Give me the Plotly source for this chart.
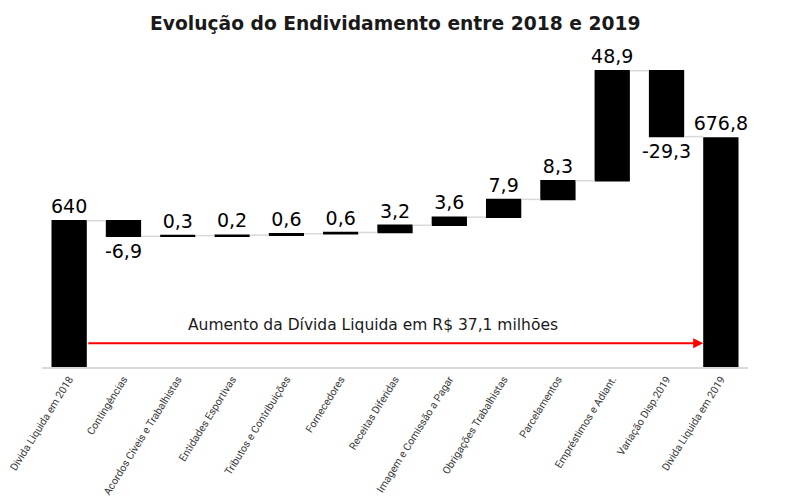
import plotly.graph_objects as go

# data
categorias = [
    'Divida Liquida em 2018', 'Contingências', 'Acordos Cíveis e Trabalhistas',
    'Entidades Esportivas', 'Tributos e Contribuições', 'Fornecedores',
    'Receitas Diferidas', 'Imagem e Comissão a Pagar', 'Obrigações Trabalhistas',
    'Parcelamentos', 'Empréstimos e Adiant.', 'Variação Disp.2019',
    'Divida Liquida em 2019',
]
valores = [640, -6.9, 0.3, 0.2, 0.6, 0.6, 3.2, 3.6, 7.9, 8.3, 48.9, -29.3, 676.8]
medidas = ['absolute'] + ['relative'] * 11 + ['absolute']
rotulos = ['640'] + [f'{v:.1f}'.replace('.', ',') for v in valores[1:]]

fig = go.Figure(go.Waterfall(
    x=categorias, y=valores, measure=medidas,
    text=rotulos, textposition='outside', cliponaxis=False,
    constraintext='none',
    textfont=dict(family='DejaVu Sans', size=19, color='#000000'),
    increasing=dict(marker=dict(color='#000000')),
    decreasing=dict(marker=dict(color='#000000')),
    totals=dict(marker=dict(color='#000000')),
    connector=dict(line=dict(color='#d9d9d9', width=1.5)),
    width=0.65,
))

# a pagina tem margem de 8px no body, por isso a figura fica menor
fig.update_layout(
    width=787, height=495,
    paper_bgcolor='white', plot_bgcolor='white',
    margin=dict(l=34, r=47, t=42, b=136),
    showlegend=False,
    title=dict(text='<b>Evolução do Endividamento entre 2018 e 2019</b>',
               x=0.492, xanchor='center', y=0.968, yanchor='middle',
               font=dict(family='DejaVu Sans', size=18.7, color='#1a1a1a')),
)
fig.update_xaxes(
    tickangle=-58, showline=True, linecolor='#d9d9d9', linewidth=2,
    tickfont=dict(family='Liberation Sans Narrow, Roboto', size=10.5, color='#3a3a3a'),
    showgrid=False, ticks='', automargin=False,
)
fig.update_yaxes(range=[575, 715.9], visible=False, showgrid=False)

# seta e texto do aumento
fig.add_annotation(
    x=11.675, y=585.6, ax=0.325, ay=585.6,
    xref='x', yref='y', axref='x', ayref='y',
    text='', showarrow=True, arrowhead=2, arrowsize=1, arrowwidth=2,
    arrowcolor='#ff0000', standoff=0, startstandoff=0,
)
fig.add_annotation(
    x=5.59, y=593.6, xref='x', yref='y', showarrow=False,
    text='Aumento da Dívida Liquida em R$ 37,1 milhões',
    font=dict(family='DejaVu Sans', size=15.5, color='#1a1a1a'),
)

fig.write_html('out.html')
